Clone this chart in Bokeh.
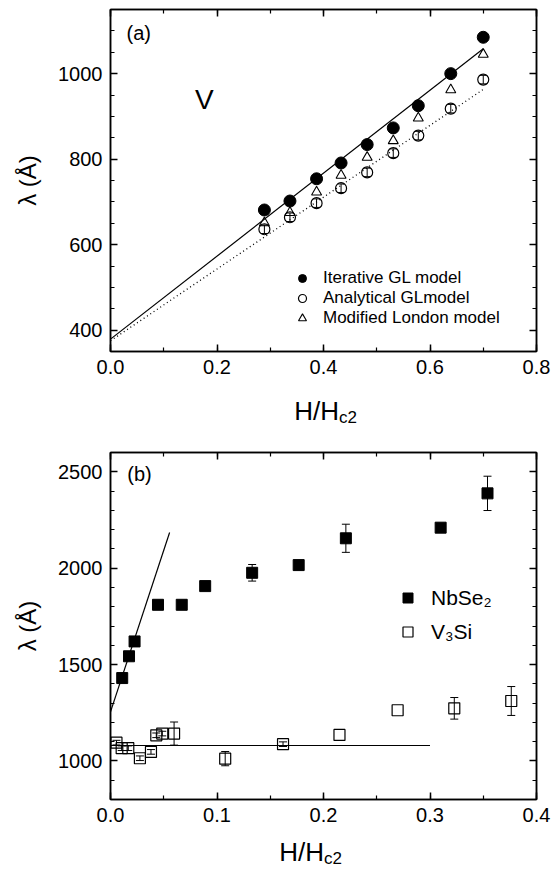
from bokeh.plotting import figure
from bokeh.layouts import column
from bokeh.models import (ColumnDataSource, Whisker, Label, Legend, LegendItem,
                          LinearAxis, SingleIntervalTicker, NumeralTickFormatter,
                          Range1d, TeeHead)
from bokeh.embed import file_html
from bokeh.resources import INLINE

FONT = "Liberation Sans"

# ---------------- data: panel (a) ----------------
a_h = [0.289, 0.337, 0.387, 0.433, 0.482, 0.531, 0.578, 0.639, 0.700]
a_iter = [681, 702, 754, 791, 834, 873, 925, 1000, 1085]
a_anal = [636, 664, 697, 732, 769, 814, 855, 918, 986]
a_anal_err = [10, 10, 10, 10, 10, 10, 10, 10, 10]
a_lond = [651, 675, 723, 762, 804, 843, 896, 962, 1045]
a_fit_iter_x = [0.0, 0.7]
a_fit_iter_y = [379, 1058]
a_fit_anal_x = [0.0, 0.7]
a_fit_anal_y = [375, 963]

# ---------------- data: panel (b) ----------------
nb_h = [0.011, 0.0174, 0.0226, 0.0446, 0.0669, 0.0889, 0.133, 0.1767, 0.221, 0.310, 0.354]
nb_lam = [1430, 1543, 1620, 1810, 1810, 1907, 1976, 2016, 2155, 2210, 2388]
nb_err = [0, 0, 0, 0, 0, 0, 43, 0, 73, 0, 89]
v3_h = [0.0056, 0.0105, 0.0167, 0.0276, 0.038, 0.043, 0.0486, 0.0597, 0.1077, 0.162,
        0.215, 0.2696, 0.3228, 0.3763]
v3_lam = [1095, 1066, 1066, 1014, 1047, 1133, 1142, 1142, 1012, 1087, 1135, 1263, 1273, 1311]
v3_err = [12, 12, 12, 12, 12, 12, 12, 60, 37, 12, 0, 0, 56, 75]
nb_fit_x = [0.0, 0.0555]
nb_fit_y = [1255, 2185]
v3_fit_x = [0.0, 0.3]
v3_fit_y = [1080, 1080]

W = 557
BL, BR = 110, 21   # shared left / right borders (frames aligned in the column)


def style_axis(ax, interval, nminor, fmt, labels=True):
    ax.ticker = SingleIntervalTicker(interval=interval, num_minor_ticks=nminor)
    ax.formatter = NumeralTickFormatter(format=fmt)
    ax.axis_line_width = 1.5
    ax.axis_line_color = "black"
    ax.major_tick_in = 7
    ax.major_tick_out = 0
    ax.minor_tick_in = 4
    ax.minor_tick_out = 0
    ax.major_tick_line_width = 1.5
    ax.minor_tick_line_width = 1.2
    ax.major_tick_line_color = "black"
    ax.minor_tick_line_color = "black"
    if labels:
        ax.major_label_text_font = FONT
        ax.major_label_text_font_size = "20px"
        ax.major_label_text_color = "black"
        ax.major_label_standoff = 8
    else:
        ax.major_label_text_font_size = "1px"
        ax.major_label_text_color = None
        ax.major_label_standoff = 0


def make_fig(height, xr, yr, btop, bbot, xint, xmin_n, yint, ymin_n, xfmt):
    p = figure(width=W, height=height, x_range=xr, y_range=Range1d(*yr),
               output_backend="svg", toolbar_location=None,
               min_border_left=BL, min_border_right=BR,
               min_border_top=btop, min_border_bottom=bbot)
    p.grid.visible = False
    p.outline_line_color = "black"
    p.outline_line_width = 1.5
    p.background_fill_color = "white"
    p.border_fill_color = "white"
    style_axis(p.xaxis[0], xint, xmin_n, xfmt)
    style_axis(p.yaxis[0], yint, ymin_n, "0")
    p.yaxis[0].axis_label = "λ (Å)"
    p.yaxis[0].axis_label_text_font = FONT
    p.yaxis[0].axis_label_text_font_size = "24px"
    p.yaxis[0].axis_label_text_font_style = "normal"
    p.yaxis[0].axis_label_text_color = "black"
    p.yaxis[0].axis_label_standoff = 14
    top = LinearAxis()
    style_axis(top, xint, xmin_n, xfmt, labels=False)
    right = LinearAxis()
    style_axis(right, yint, ymin_n, "0", labels=False)
    p.add_layout(top, "above")
    p.add_layout(right, "right")
    return p


def label_fig(height, xr, xpos, base):
    f = figure(width=W, height=height, x_range=xr, y_range=Range1d(0, height),
               x_axis_type=None, y_axis_type=None, output_backend="svg",
               toolbar_location=None, min_border_left=BL, min_border_right=BR,
               min_border_top=0, min_border_bottom=0)
    f.outline_line_color = None
    f.background_fill_color = "white"
    f.border_fill_color = "white"
    f.add_layout(Label(x=xpos, y=base, text="H/H", text_align="right",
                       text_baseline="alphabetic", text_font=FONT,
                       text_font_size="26px", text_color="black"))
    f.add_layout(Label(x=xpos, y=base - 7, text="c2", text_align="left",
                       text_baseline="alphabetic", text_font=FONT,
                       text_font_size="17px", text_color="black"))
    return f


# ---------------- panel (a) ----------------
xr_a = Range1d(0.0, 0.8)
pa = make_fig(385, xr_a, (350, 1150), 9, 34, 0.2, 2, 200, 4, "0.0")

pa.line(a_fit_iter_x, a_fit_iter_y, line_color="black", line_width=1.2)
pa.line(a_fit_anal_x, a_fit_anal_y, line_color="black", line_width=1.3, line_dash="1 3")

src_err = ColumnDataSource(dict(x=a_h, upper=[v + e for v, e in zip(a_anal, a_anal_err)],
                                lower=[v - e for v, e in zip(a_anal, a_anal_err)]))
pa.add_layout(Whisker(base="x", upper="upper", lower="lower", source=src_err,
                      dimension="height", line_color="black", line_width=1,
                      upper_head=TeeHead(size=7, line_width=1),
                      lower_head=TeeHead(size=7, line_width=1)))

r_iter = pa.scatter(a_h, a_iter, marker="circle", size=12, fill_color="black",
                    line_color="black")
r_anal = pa.scatter(a_h, a_anal, marker="circle", size=11, fill_color=None,
                    line_color="black", line_width=1.2)
r_lond = pa.scatter(a_h, a_lond, marker="triangle", size=10, fill_color=None,
                    line_color="black", line_width=1.1)

leg_a = Legend(items=[LegendItem(label="Iterative GL model", renderers=[r_iter]),
                      LegendItem(label="Analytical GLmodel", renderers=[r_anal]),
                      LegendItem(label="Modified London model", renderers=[r_lond])],
               location=(182, 23), orientation="vertical",
               border_line_color=None, background_fill_alpha=0,
               padding=0, margin=0, spacing=0,
               glyph_width=20, glyph_height=20, label_height=20, label_standoff=11,
               label_text_font=FONT, label_text_font_size="17px",
               label_text_color="black")
pa.add_layout(leg_a, "center")

pa.add_layout(Label(x=0.03, y=1096, text="(a)", text_baseline="middle", text_align="left",
                    text_font=FONT, text_font_size="20px", text_color="black"))
pa.add_layout(Label(x=0.176, y=939, text="V", text_baseline="middle", text_align="center",
                    text_font=FONT, text_font_size="28px", text_color="black"))

la = label_fig(47, xr_a, 0.429, 22)

# ---------------- panel (b) ----------------
xr_b = Range1d(0.0, 0.4)
pb = make_fig(403, xr_b, (800, 2600), 20, 36, 0.1, 2, 500, 5, "0.0")

pb.line(nb_fit_x, nb_fit_y, line_color="black", line_width=1.2)
pb.line(v3_fit_x, v3_fit_y, line_color="black", line_width=1.2)

nb_src = ColumnDataSource(dict(
    x=[h for h, e in zip(nb_h, nb_err) if e > 0],
    upper=[v + e for v, e in zip(nb_lam, nb_err) if e > 0],
    lower=[v - e for v, e in zip(nb_lam, nb_err) if e > 0]))
v3_src = ColumnDataSource(dict(
    x=[h for h, e in zip(v3_h, v3_err) if e > 0],
    upper=[v + e for v, e in zip(v3_lam, v3_err) if e > 0],
    lower=[v - e for v, e in zip(v3_lam, v3_err) if e > 0]))
for s in (nb_src, v3_src):
    pb.add_layout(Whisker(base="x", upper="upper", lower="lower", source=s,
                          dimension="height", line_color="black", line_width=1,
                          upper_head=TeeHead(size=8, line_width=1),
                          lower_head=TeeHead(size=8, line_width=1)))

r_nb = pb.scatter(nb_h, nb_lam, marker="square", size=11, fill_color="black",
                  line_color="black")
r_v3 = pb.scatter(v3_h, v3_lam, marker="square", size=11, fill_color=None,
                  line_color="black", line_width=1.2)

leg_b = Legend(items=[LegendItem(label="NbSe₂", renderers=[r_nb]),
                      LegendItem(label="V₃Si", renderers=[r_v3])],
               location=(285, 155), orientation="vertical",
               border_line_color=None, background_fill_alpha=0,
               padding=0, margin=0, spacing=9,
               glyph_width=25, glyph_height=25, label_height=25, label_standoff=11,
               label_text_font=FONT, label_text_font_size="21px",
               label_text_color="black")
pb.add_layout(leg_b, "center")

pb.add_layout(Label(x=0.0158, y=2488, text="(b)", text_baseline="middle", text_align="left",
                    text_font=FONT, text_font_size="20px", text_color="black"))

lb = label_fig(34, xr_b, 0.2005, 18)

layout = column(pa, la, pb, lb, spacing=0)
open("out.html", "w").write(file_html(layout, INLINE))
